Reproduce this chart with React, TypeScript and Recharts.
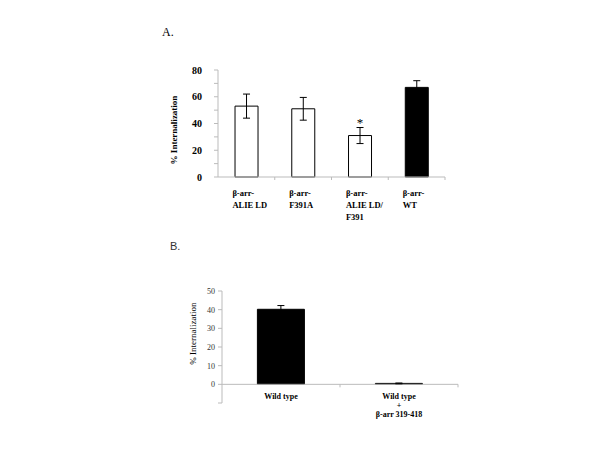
import React from "react";
import { BarChart, Bar, XAxis, YAxis, ErrorBar, Cell, LabelList, ReferenceLine } from "recharts";

// Panel A data
const catsA = ["β-arr-\nALIE LD", "β-arr-\nF391A", "β-arr-\nALIE LD/\nF391", "β-arr-\nWT"];
const valsA = [53, 51, 31, 67];
const errsA = [9, 8.5, 6, 5];
const sigA = ["", "", "*", ""];
const fillA = ["#ffffff", "#ffffff", "#ffffff", "#000000"];
const ticksA = [0, 10, 20, 30, 40, 50, 60, 70, 80];

// Panel B data
const catsB = ["Wild type", "Wild type\n+\nβ-arr  319-418"];
const valsB = [40.2, 0.5];
const errsB = [2, 0.2];
const ticksB = [-10, 0, 10, 20, 30, 40, 50];

const dataA = catsA.map((c, i) => ({ name: c, value: valsA[i], err: errsA[i], sig: sigA[i] }));
const dataB = catsB.map((c, i) => ({ name: c, value: valsB[i], err: errsB[i] }));

const A_W = 320, A_H = 200;
const A_M = { top: 30, right: 25, bottom: 13, left: 10 };
const A_YW = 58;
const bandA = (A_W - A_M.left - A_M.right - A_YW) / catsA.length;

const B_W = 330, B_H = 160;
const B_M = { top: 21, right: 22, bottom: 7, left: 12 };
const B_YW = 60;
const B_XH = 20;
const bandB = (B_W - B_M.left - B_M.right - B_YW) / catsB.length;
const plotHB = B_H - B_M.top - B_M.bottom - B_XH;
const zeroOffB = plotHB * (0 - ticksB[0]) / (ticksB[ticksB.length - 1] - ticksB[0]);

const serif = "'Liberation Serif', 'Times New Roman', serif";

const TickA = (props: any) => {
  const { x, y, payload } = props;
  const lines = String(payload.value).split("\n");
  return (
    <g>
      <line x1={x + bandA / 2} x2={x + bandA / 2} y1={y} y2={y + 3} stroke="#bbbbbb" />
      <text x={x - 14} y={y + 19} fontFamily={serif} fontWeight="bold" fontSize={8.5} fill="#000">
        {lines.map((l, i) => (
          <tspan key={i} x={x - 14} dy={i === 0 ? 0 : 12}>{l}</tspan>
        ))}
      </text>
    </g>
  );
};

const TickB = (props: any) => {
  const { x, y, payload } = props;
  const zy = y - zeroOffB;
  const lines = String(payload.value).split("\n");
  return (
    <g>
      <line x1={x + bandB / 2} x2={x + bandB / 2} y1={zy} y2={zy + 3} stroke="#bbbbbb" />
      <text x={x} y={zy + 15} fontFamily={serif} fontWeight="bold" fontSize={8} fill="#000" textAnchor="middle">
        {lines.map((l, i) => (
          <tspan key={i} x={x} dy={i === 0 ? 0 : 9}>{l}</tspan>
        ))}
      </text>
    </g>
  );
};

const makeYLabel = (text: string, off: number, shift: number, size: number, weight: string) => (props: any) => {
  const vb = props.viewBox;
  const cx = vb.x + off;
  const cy = vb.y + vb.height / 2 + shift;
  return (
    <text
      x={cx}
      y={cy}
      transform={`rotate(-90 ${cx} ${cy})`}
      textAnchor="middle"
      dominantBaseline="central"
      fontFamily={serif}
      fontWeight={weight}
      fontSize={size}
      fill="#000"
    >
      {text}
    </text>
  );
};

const LabelA = makeYLabel("% Internalization", 14, 6.5, 9, "bold");
const LabelB = makeYLabel("% Internalization", 31, -13.5, 9, "normal");

export default function App() {
  return (
    <div style={{ position: "absolute", left: 0, top: 0, width: 600, height: 450, background: "#fff" }}>
      <div style={{ position: "absolute", left: 162, top: 25, fontFamily: serif, fontSize: 12, color: "#000" }}>A.</div>
      <div style={{ position: "absolute", left: 170, top: 240, fontFamily: "'Liberation Sans', Arial, sans-serif", fontSize: 11, color: "#333" }}>B.</div>

      <div style={{ position: "absolute", left: 150, top: 40 }}>
        <BarChart width={A_W} height={A_H} data={dataA} margin={A_M} barCategoryGap="30%">
          <XAxis
            dataKey="name"
            height={50}
            tickSize={0}
            tickMargin={0}
            interval={0}
            tick={<TickA />}
            axisLine={{ stroke: "#bbbbbb" }}
            tickLine={false}
          />
          <YAxis
            width={A_YW}
            domain={[0, 80]}
            ticks={ticksA}
            interval={0}
            tickSize={4}
            tickMargin={12}
            tickFormatter={(v: number) => (v % 20 === 0 ? String(v) : "")}
            tick={{ fontFamily: serif, fontWeight: "bold", fontSize: 10, fill: "#000" }}
            axisLine={{ stroke: "#bbbbbb" }}
            tickLine={{ stroke: "#bbbbbb" }}
            label={{ content: LabelA }}
          />
          <Bar dataKey="value" stroke="#000" strokeWidth={1} isAnimationActive={false}>
            {dataA.map((d, i) => (
              <Cell key={i} fill={fillA[i]} />
            ))}
            <ErrorBar dataKey="err" width={3.5} stroke="#000" strokeWidth={1} direction="y" />
            <LabelList dataKey="sig" position="top" offset={9} fill="#000" stroke="none" style={{ fontFamily: serif, fontSize: 13, fill: "#000" }} />
          </Bar>
        </BarChart>
      </div>

      <div style={{ position: "absolute", left: 150, top: 270 }}>
        <BarChart width={B_W} height={B_H} data={dataB} margin={B_M} barCategoryGap="30%">
          <XAxis
            dataKey="name"
            height={B_XH}
            tickSize={0}
            tickMargin={0}
            interval={0}
            tick={<TickB />}
            axisLine={false}
            tickLine={false}
          />
          <YAxis
            width={B_YW}
            domain={[ticksB[0], ticksB[ticksB.length - 1]]}
            ticks={ticksB}
            interval={0}
            tickSize={4}
            tickMargin={3}
            tickFormatter={(v: number) => (v < 0 ? "" : String(v))}
            tick={{ fontFamily: serif, fontSize: 8, fill: "#333" }}
            axisLine={{ stroke: "#bbbbbb" }}
            tickLine={{ stroke: "#bbbbbb" }}
            label={{ content: LabelB }}
          />
          <ReferenceLine y={0} stroke="#bbbbbb" />
          <Bar dataKey="value" fill="#000" stroke="#000" isAnimationActive={false}>
            <ErrorBar dataKey="err" width={3.5} stroke="#000" strokeWidth={1} direction="y" />
          </Bar>
        </BarChart>
      </div>
    </div>
  );
}
